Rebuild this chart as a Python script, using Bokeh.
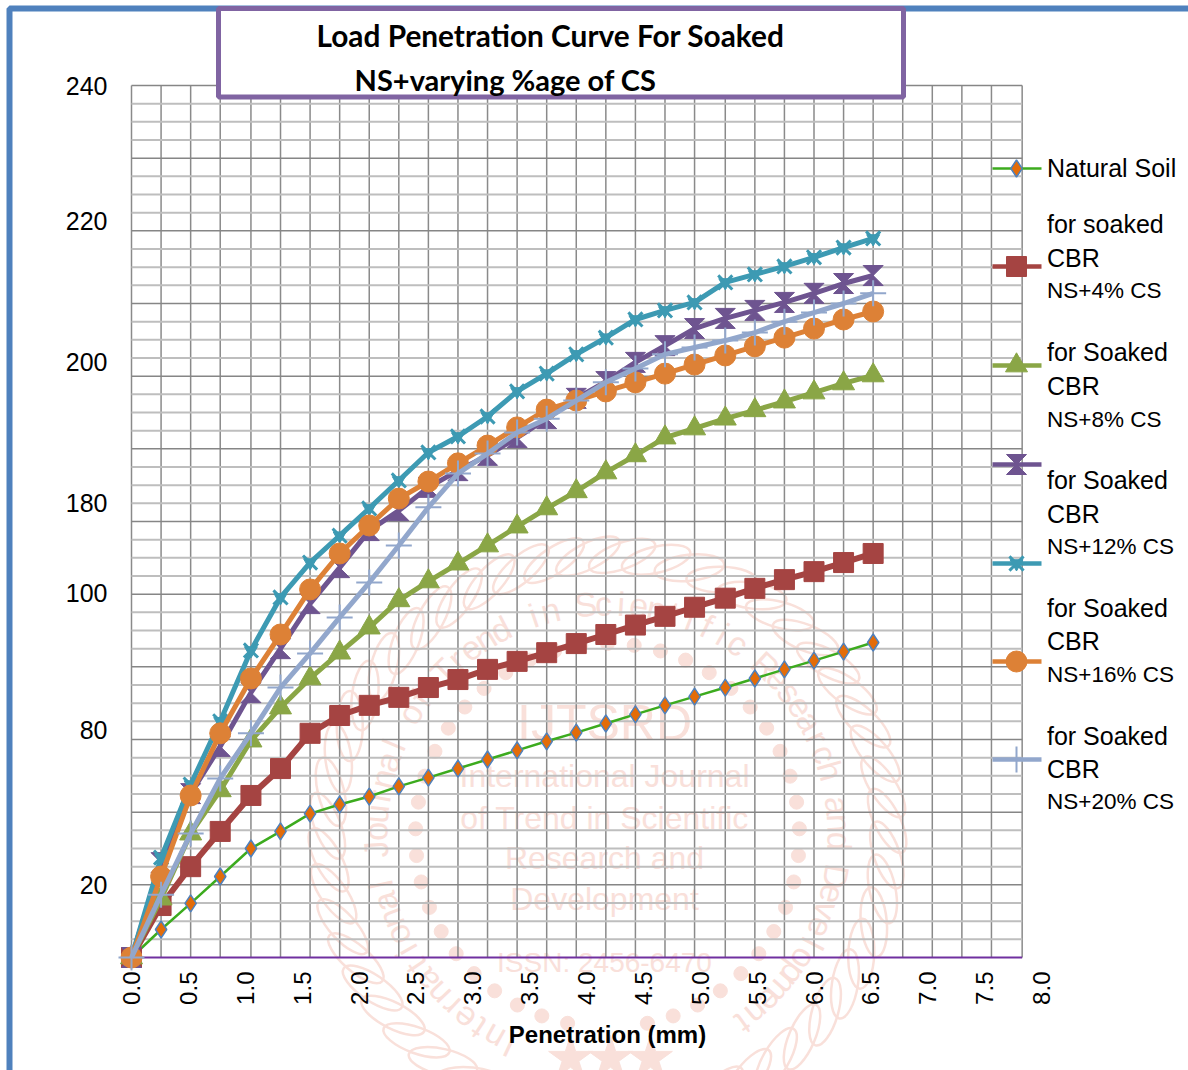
import math
from bokeh.plotting import figure
from bokeh.models import BoxAnnotation, Label, FixedTicker
from bokeh.core.properties import value
from bokeh.embed import file_html
from bokeh.resources import INLINE

penetration = [0.00,0.26,0.52,0.78,1.05,1.31,1.57,1.83,2.09,2.35,2.61,2.87,3.13,3.39,3.65,3.91,4.17,4.43,4.69,4.95,5.22,5.48,5.74,6.00,6.26,6.52]
natural_soil = [0,7.7,14.9,22.3,30.0,34.7,39.6,42.1,44.3,47.1,49.5,52.0,54.5,57.0,59.5,61.9,64.4,66.9,69.4,71.8,74.3,76.8,79.3,81.7,84.2,86.7]
cs_4 = [0,14.3,25.0,34.7,44.6,52.0,61.7,66.6,69.4,71.6,74.3,76.5,79.3,81.5,83.9,86.4,88.9,91.5,93.9,96.4,98.9,101.6,104.0,106.2,108.7,111.2]
cs_8 = [0,16.2,34.1,46.0,59.7,68.8,76.8,83.9,90.8,98.3,103.5,108.4,113.4,118.6,123.6,128.3,133.5,138.2,143.1,145.6,148.3,150.6,153.0,155.5,158.0,160.2]
cs_12 = [0,26.1,45.1,58.1,72.9,85.0,97.4,107.3,117.5,123.0,129.4,134.0,138.2,143.1,148.3,153.9,158.5,163.8,168.4,173.1,175.9,178.1,180.3,182.8,185.5,187.7]
cs_12b = [0,27.5,47.6,65.0,84.5,99.1,108.7,116.1,123.6,131.3,139.0,143.4,148.9,155.8,160.7,166.0,170.6,175.6,178.1,180.3,185.8,188.0,190.2,192.7,195.4,197.9]
cs_16 = [0,22.3,44.6,61.7,76.8,88.9,101.3,111.2,118.9,126.3,131.0,136.0,140.9,145.9,150.8,153.3,155.8,158.3,160.7,163.2,165.7,168.2,170.6,173.1,175.6,177.8]
cs_20 = [0,17.3,34.1,49.3,61.7,74.3,83.7,93.6,103.2,113.4,123.9,133.2,138.7,144.5,148.3,153.3,158.3,162.1,166.0,167.9,169.8,172.0,175.0,177.5,180.0,182.8]

x_grid_extra = [6.78,7.04,7.30,7.56,7.83]
y_grid = list(range(0, 241, 5))
x_tick_labels = ["0.0","0.5","1.0","1.5","2.0","2.5","3.0","3.5","4.0","4.5","5.0","5.5","6.0","6.5","7.0","7.5","8.0"]
x_ticks = [0.5*i for i in range(17)]
y_tick_labels = ["20","80","100","180","200","220","240"]
y_ticks = [20, 62.5, 100.2, 125, 163.8, 202.6, 240]
title_lines = ["Load Penetration Curve For Soaked", "NS+varying %age of CS"]
legend_entries = [["Natural Soil"],["for soaked","CBR","NS+4% CS"],["for Soaked","CBR","NS+8% CS"],["for Soaked","CBR","NS+12% CS"],["for Soaked","CBR","NS+16% CS"],["for Soaked","CBR","NS+20% CS"]]
x_label = "Penetration (mm)"

FONT = "Liberation Sans"
X0, XS = 131, 113.75
Y0, YS = 957, 872/240
def px(v): return (v - X0)/XS
def py(v): return (Y0 - v)/YS

W, H = 1188, 1070
p = figure(width=W, height=H, output_backend="svg", toolbar_location=None,
           x_range=(px(0), px(W)), y_range=(py(H), py(0)),
           min_border_left=0, min_border_right=0, min_border_top=0, min_border_bottom=0,
           background_fill_color="white", border_fill_color="white")
p.outline_line_color = None
p.grid.visible = False

# ---- watermark (pale, behind everything) ----
WM = "#F9E0DA"
CX, CY = 607, 835
def ring(r, deg):
    t = math.radians(deg)
    return px(CX + r*math.sin(t)), py(CY - r*math.cos(t))
degs = list(range(-165, 166, 7))
pts = [ring(280, d) for d in degs]
p.ellipse([a for a, _ in pts], [b for _, b in pts], width=70, height=26, width_units="screen", height_units="screen",
          angle=[-math.radians(d) + 0.4 for d in degs], fill_alpha=0, line_color=WM, line_width=2.5)
dots = [ring(192, d) for d in range(-168, 169, 8)]
p.scatter([a for a, _ in dots], [b for _, b in dots], size=14, color=WM)
p.scatter([px(570), px(610), px(650)], [py(1058)]*3, marker="star", size=46, color=WM)
ring_text = "International Journal of Trend in Scientific Research and Development"
chars, cxs, cys, cang = [], [], [], []
for i, ch in enumerate(ring_text):
    d = -155 + 4.4*i
    a, b = ring(232, d)
    chars.append(ch); cxs.append(a); cys.append(b); cang.append(-math.radians(d))
p.text(cxs, cys, text=chars, angle=cang, text_align="center", text_baseline="middle",
       text_font=value(FONT), text_font_size="34px", text_color=WM)
wm_lines = [("IJTSRD", 722, "50px"), ("International Journal", 775, "32px"), ("of Trend in Scientific", 817, "32px"),
            ("Research and", 857, "32px"), ("Development", 898, "32px"), ("ISSN: 2456-6470", 962, "28px")]
for txt, yy, fs in wm_lines:
    p.text([px(604)], [py(yy)], text=[txt], text_align="center", text_baseline="middle",
           text_font=value(FONT), text_font_size=fs, text_color=WM)

# ---- grid ----
xg = penetration + x_grid_extra
p.segment(xg, [0]*len(xg), xg, [240]*len(xg), line_color="#8A8A8A", line_width=1.5)
minor = [v for v in y_grid if v % 20]
major = [v for v in y_grid if v % 20 == 0 and v]
xmax = x_grid_extra[-1]
p.segment([0]*len(minor), minor, [xmax]*len(minor), minor, line_color="#BEBEBE", line_width=2)
p.segment([0]*len(major), major, [xmax]*len(major), major, line_color="#868686", line_width=1.5)
p.segment([0], [0], [xmax], [0], line_color="#7030A0", line_width=2)

# ---- series ----
styles = [
    (natural_soil, "#3CAB1E", 2.5),
    (cs_4, "#A54442", 6),
    (cs_8, "#8AA646", 5),
    (cs_12, "#6E5490", 5),
    (cs_12b, "#3D9AB3", 5),
    (cs_16, "#DD8136", 5),
    (cs_20, "#92A7CC", 5),
]
def markers(i, xs, ys):
    c = styles[i][1]
    if i == 0:
        p.scatter(xs, ys, marker="diamond", size=17, fill_color="#E36C09", line_color="#4F81BD", line_width=1.5)
    elif i == 1:
        p.scatter(xs, ys, marker="square", size=20, color=c)
    elif i == 2:
        p.scatter(xs, ys, marker="triangle", size=22, color=c)
    elif i == 3:
        # hourglass marker: two wedges that meet at the point
        dx, dy = 10/XS, 10/YS
        p.patches([[a-dx, a+dx, a] for a in xs] + [[a-dx, a+dx, a] for a in xs],
                  [[b+dy, b+dy, b] for b in ys] + [[b-dy, b-dy, b] for b in ys],
                  color=c, line_width=1)
    elif i == 4:
        p.scatter(xs, ys, marker="x", size=20, fill_alpha=0, line_color=c, line_width=3)
        p.scatter(xs, ys, marker="inverted_triangle", size=13, color=c)
    elif i == 5:
        p.scatter(xs, ys, marker="circle", size=21, color=c)
    else:
        p.scatter(xs, ys, marker="cross", size=26, fill_alpha=0, line_color=c, line_width=2)
for i, (ys, c, lw) in enumerate(styles):
    p.line(penetration, ys, line_color=c, line_width=lw)
    markers(i, penetration, ys)

# ---- legend keys and texts ----
key_y = [168, 266, 365, 464, 563, 661, 759]
for i, ky in enumerate(key_y):
    c, lw = styles[i][1], min(styles[i][2], 4.5)
    p.line([px(992), px(1041)], [py(ky)]*2, line_color=c, line_width=lw)
    markers(i, [px(1016)], [py(ky)])
legend_y = [[168], [224, 258, 291], [352, 386, 420], [480, 514, 547], [608, 641, 675], [736, 769, 802]]
for entry, ys in zip(legend_entries, legend_y):
    for t, yy in zip(entry, ys):
        fs = "22.5px" if t.startswith("NS+") else "25px"
        p.add_layout(Label(x=px(1046.5), y=py(yy-1), text=t, text_align="left", text_baseline="middle",
                           text_font=FONT, text_font_size=fs, text_color="black"))

# ---- axes ----
xa = p.xaxis[0]
xa.fixed_location = 0
xa.bounds = (0, 8.37)
xa.ticker = FixedTicker(ticks=x_ticks)
xa.major_label_overrides = dict(zip(x_ticks, x_tick_labels))
xa.major_label_orientation = math.pi/2
xa.major_label_standoff = 8
xa.major_label_text_font = FONT
xa.major_label_text_font_size = "24px"
xa.major_label_text_color = "black"
xa.axis_line_color = None
xa.major_tick_line_color = None
xa.minor_tick_line_color = None
xa.axis_label = x_label
xa.axis_label_text_font = FONT
xa.axis_label_text_font_size = "24px"
xa.axis_label_text_font_style = "bold"
xa.axis_label_text_color = "black"
xa.axis_label_standoff = 13

ya = p.yaxis[0]
ya.fixed_location = 0
ya.bounds = (0, 240)
ya.ticker = FixedTicker(ticks=y_ticks)
ya.major_label_overrides = dict(zip(y_ticks, y_tick_labels))
ya.major_label_standoff = 18
ya.major_label_text_font = FONT
ya.major_label_text_font_size = "25px"
ya.major_label_text_color = "black"
ya.axis_line_color = None
ya.major_tick_line_color = None
ya.minor_tick_line_color = None

# ---- page frame and title box ----
p.add_layout(BoxAnnotation(left=px(9), right=px(3000), top=py(8), bottom=py(3000),
                           fill_alpha=0, line_color="#4F81BD", line_alpha=1, line_width=6))
p.add_layout(BoxAnnotation(left=px(218), right=px(903), top=py(8), bottom=py(96.5),
                           fill_color="white", fill_alpha=1, line_color="#8064A2", line_alpha=1, line_width=5))
for t, xc, yy, fs in ((title_lines[0], 550, 35, "29.8px"), (title_lines[1], 505, 79, "29px")):
    p.add_layout(Label(x=px(xc), y=py(yy), text=t, text_align="center", text_baseline="middle",
                       text_font="Lato", text_font_style="bold", text_font_size=fs, text_color="black"))

open("out.html", "w").write(file_html(p, INLINE))
